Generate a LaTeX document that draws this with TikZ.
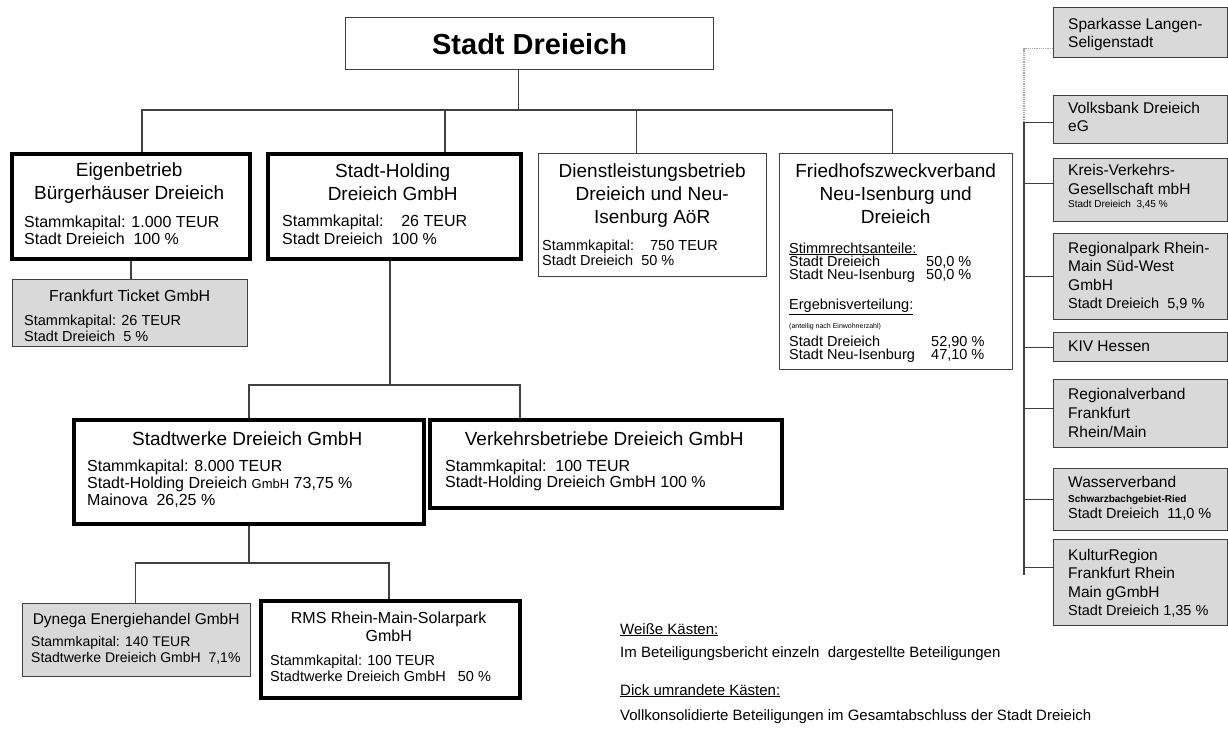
\documentclass[tikz,border=0pt]{standalone}
\usepackage{fontspec}
\setmainfont{Liberation Sans}
\usetikzlibrary{positioning}

\newcommand{\titlef}{\fontsize{19}{23}\selectfont}
\newcommand{\bodyf}{\fontsize{16}{17}\selectfont}
\newcommand{\subf}{\fontsize{16}{18}\selectfont}
\newcommand{\smallf}{\fontsize{14.5}{16}\selectfont}
\newcommand{\sidef}{\fontsize{15.5}{19}\selectfont}
\newcommand{\tinyf}{\fontsize{10}{12}\selectfont}

\tikzset{
  conn/.style={draw=black!75, line width=1.2pt},
  thinbox/.style={draw=black!75, line width=1.3pt, anchor=north west, inner sep=0pt},
  thickbox/.style={draw=black, line width=3.8pt, anchor=north west, inner sep=0pt},
  graybox/.style={thinbox, fill=black!15},
  txt/.style={anchor=base west, inner sep=0pt},
}

\begin{document}
\begin{tikzpicture}[x=1pt,y=-1pt]
\useasboundingbox (0,0) rectangle (1228,728);

% boxes
\node[thinbox, minimum width=368pt, minimum height=52pt,
      font=\bfseries\fontsize{29}{34}\selectfont] (top) at (345,17) {Stadt Dreieich};
\node[thickbox, minimum width=238pt, minimum height=105pt] (eigen) at (10,152) {};
\node[thickbox, minimum width=253pt, minimum height=105pt] (holding) at (266,152) {};
\node[thinbox, minimum width=228pt, minimum height=123pt] (dienst) at (538,153) {};
\node[thinbox, minimum width=233pt, minimum height=216pt] (fried) at (779,153) {};
\node[graybox, minimum width=235pt, minimum height=67pt] (ticket) at (12,279) {};
\node[thickbox, minimum width=350pt, minimum height=104pt] (werke) at (72,418) {};
\node[thickbox, minimum width=352pt, minimum height=88pt] (verkehr) at (428,418) {};
\node[graybox, minimum width=228pt, minimum height=73pt] (dynega) at (22,603) {};
\node[thickbox, minimum width=259pt, minimum height=97pt] (rms) at (259,599) {};

% right column
\node[graybox, minimum width=174pt, minimum height=50pt] (spark) at (1053,7) {};
\node[graybox, minimum width=174pt, minimum height=48pt] (volks) at (1053,95) {};
\node[graybox, minimum width=174pt, minimum height=63pt] (kreis) at (1053,158) {};
\node[graybox, minimum width=174pt, minimum height=86pt] (regio) at (1053,233) {};
\node[graybox, minimum width=174pt, minimum height=29pt] (kiv) at (1053,332) {};
\node[graybox, minimum width=174pt, minimum height=68pt] (rverb) at (1053,379) {};
\node[graybox, minimum width=174pt, minimum height=62pt] (wasser) at (1053,468) {};
\node[graybox, minimum width=174pt, minimum height=86pt] (kultur) at (1053,539) {};

% texts
\node[txt] (eigen-t) at (24,176) {\parbox[t]{210pt}{%
  {\centering\titlef Eigenbetrieb\\Bürgerhäuser Dreieich\par}\vspace{11pt}%
  \bodyf Stammkapital: 1.000 TEUR\\Stadt Dreieich\ \ 100 \%}};
\node[txt] (holding-t) at (282,177) {\parbox[t]{221pt}{%
  {\centering\titlef Stadt-Holding\\Dreieich GmbH\par}\vspace{8pt}%
  \subf Stammkapital:\ \ \ \ 26 TEUR\\Stadt Dreieich\ \ 100 \%}};
\node[txt] (dienst-t) at (542,177) {\parbox[t]{220pt}{%
  {\centering\titlef Dienstleistungsbetrieb\\Dreieich und Neu-\\Isenburg AöR\par}\vspace{12pt}%
  \fontsize{14.5}{15}\selectfont Stammkapital:\ \ \ \ 750 TEUR\\Stadt Dreieich\ \ 50 \%}};
\node[txt] (fried-t) at (789,177) {\parbox[t]{213pt}{%
  {\centering\titlef Friedhofszweckverband\\Neu-Isenburg und\\Dreieich\par}\vspace{17pt}%
  \fontsize{14.5}{13}\selectfont
  \underline{Stimmrechtsanteile:}\\
  \makebox[137pt][l]{Stadt Dreieich}50,0 \%\\
  \makebox[137pt][l]{Stadt Neu-Isenburg}50,0 \%\\[16pt]
  \underline{Ergebnisverteilung:}\\[6pt]
  {\fontsize{7}{13}\selectfont (anteilig nach Einwohnerzahl)}\\[5pt]
  \makebox[142pt][l]{Stadt Dreieich}52,90 \%\\
  \makebox[142pt][l]{Stadt Neu-Isenburg}47,10 \%}};
\node[txt] (ticket-t) at (24,301) {\parbox[t]{211pt}{%
  {\centering\subf Frankfurt Ticket GmbH\par}\vspace{8pt}%
  \smallf Stammkapital: 26 TEUR\\Stadt Dreieich\ \ 5 \%}};
\node[txt] (werke-t) at (87,445) {\parbox[t]{320pt}{%
  {\centering\titlef Stadtwerke Dreieich GmbH\par}\vspace{9pt}%
  \bodyf Stammkapital: 8.000 TEUR\\
  Stadt-Holding Dreieich {\fontsize{13}{17}\selectfont GmbH} 73,75 \%\\
  Mainova\ \ 26,25 \%}};
\node[txt] (verkehr-t) at (445,445) {\parbox[t]{318pt}{%
  {\centering\titlef Verkehrsbetriebe Dreieich GmbH\par}\vspace{9.5pt}%
  \fontsize{16}{16.5}\selectfont Stammkapital:\ \ 100 TEUR\\Stadt-Holding Dreieich GmbH 100 \%}};
\node[txt] (dynega-t) at (31,624) {\parbox[t]{210pt}{%
  {\centering\fontsize{15.5}{18}\selectfont Dynega Energiehandel GmbH\par}\vspace{6pt}%
  \fontsize{14}{16}\selectfont\mbox{Stammkapital: 140 TEUR}\\\mbox{Stadtwerke Dreieich GmbH\ \ 7,1\%}}};
\node[txt] (rms-t) at (270,623) {\parbox[t]{237pt}{%
  {\centering\subf RMS Rhein-Main-Solarpark\\GmbH\par}\vspace{8pt}%
  \smallf Stammkapital: 100 TEUR\\Stadtwerke Dreieich GmbH\ \ \ 50 \%}};

\node[txt] (spark-t) at (1068,29) {\parbox[t]{155pt}{\fontsize{15.5}{18}\selectfont
  Sparkasse Langen-\\Seligenstadt}};
\node[txt] (volks-t) at (1068,113) {\parbox[t]{155pt}{\fontsize{15.5}{18.5}\selectfont
  Volksbank Dreieich\\eG}};
\node[txt] (kreis-t) at (1068,175) {\parbox[t]{155pt}{\sidef
  Kreis-Verkehrs-\\Gesellschaft mbH\\[-6pt]{\tinyf Stadt Dreieich\ \ 3,45 \%}}};
\node[txt] (regio-t) at (1068,253) {\parbox[t]{155pt}{\fontsize{15.5}{18.5}\selectfont
  Regionalpark Rhein-\\Main Süd-West\\GmbH\\{\smallf Stadt Dreieich\ \ 5,9 \%}}};
\node[txt] (kiv-t) at (1068,351) {\parbox[t]{155pt}{\sidef KIV Hessen}};
\node[txt] (rverb-t) at (1068,399) {\parbox[t]{155pt}{\sidef
  Regionalverband\\Frankfurt\\Rhein/Main}};
\node[txt] (wasser-t) at (1068,487) {\parbox[t]{155pt}{\sidef
  Wasserverband\\[-4pt]{\tinyf\bfseries Schwarzbachgebiet-Ried}\\[-3pt]{\smallf Stadt Dreieich\ \ 11,0 \%}}};
\node[txt] (kultur-t) at (1068,560) {\parbox[t]{155pt}{\fontsize{15.5}{18.5}\selectfont
  KulturRegion\\Frankfurt Rhein\\Main gGmbH\\{\smallf Stadt Dreieich 1,35 \%}}};

% legend
\node[txt] (legend1) at (620,634) {\parbox[t]{600pt}{\fontsize{15}{23}\selectfont
  \underline{Weiße Kästen:}\\Im Beteiligungsbericht einzeln\ \ dargestellte Beteiligungen}};
\node[txt] (legend2) at (620,695) {\parbox[t]{600pt}{\fontsize{15}{25}\selectfont
  \underline{Dick umrandete Kästen:}\\Vollkonsolidierte Beteiligungen im Gesamtabschluss der Stadt Dreieich}};

% connectors
\coordinate (bus) at (518,110);
\draw[conn] ([xshift=-11pt]top.south) -- ([xshift=-11pt]top.south |- bus);
\draw[conn] ([xshift=11pt]eigen.north) |- (bus) -| ([xshift=-3.5pt]fried.north);
\draw[conn] ([xshift=50.5pt]holding.north) -- ([xshift=50.5pt]holding.north |- bus);
\draw[conn] ([xshift=-16pt]dienst.north) -- ([xshift=-16pt]dienst.north |- bus);
\draw[conn] (eigen.south) -- (eigen.south |- ticket.north);

\coordinate (bus2) at (388,385);
\draw[conn] ([xshift=-4.5pt]holding.south) -- ([xshift=-4.5pt]holding.south |- bus2);
\draw[conn] (werke.north) |- (bus2) -| ([xshift=-86pt]verkehr.north);

\coordinate (bus3) at (248,563);
\draw[conn] (werke.south) -- (werke.south |- bus3);
\draw[conn] ([xshift=-1pt]dynega.north) |- (bus3) -| ([xshift=-1.5pt]rms.north);

\coordinate (railtop) at (1024,122);
\coordinate (rail) at (1024,575);
\draw[conn, draw=black!35, densely dotted] ([yshift=-16pt]spark.west) -| (railtop);
\draw[conn] (railtop) -- (rail);
\foreach \b/\s in {volks/-3,kreis/6.5,regio/0,kiv/0,rverb/5,wasser/0,kultur/15}
  \draw[conn] ([yshift=\s pt]\b.west) -- ([yshift=\s pt]\b.west -| rail);
\end{tikzpicture}
\end{document}
